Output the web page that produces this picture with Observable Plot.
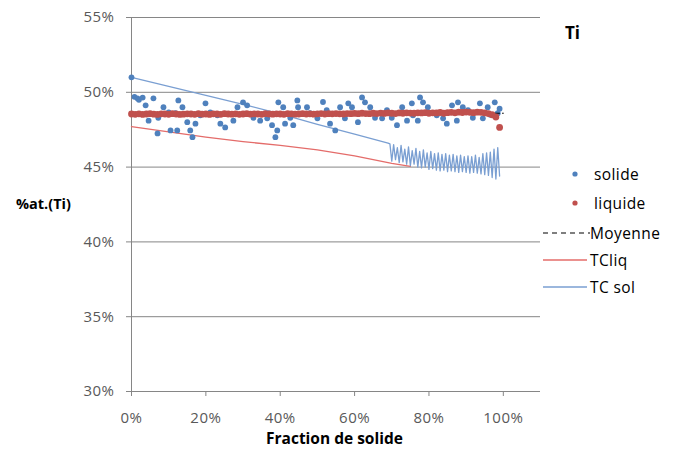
<!DOCTYPE html>
<html>
<head>
<meta charset="utf-8">
<script src="https://cdn.jsdelivr.net/npm/d3@7"></script>
<script src="https://cdn.jsdelivr.net/npm/@observablehq/plot@0.6"></script>
<style>
  body { margin: 0; background: #fff; }
  #wrap { position: relative; width: 678px; height: 455px; font-family: "Open Sans", sans-serif; }
  .lbl { position: absolute; white-space: nowrap; color: #000; }
  .leg { position: absolute; display: flex; align-items: center; font-size: 15.5px; letter-spacing: 0.4px; color: #000; white-space: nowrap; }
  svg text { letter-spacing: 0.5px; }
</style>
</head>
<body>
<div id="wrap"></div>
<script>
// ---- data (values in %) ----
const yTicks = [30, 35, 40, 45, 50, 55];
const xTicks = [0, 20, 40, 60, 80, 100];

const solideX = [0, 0.8, 1.6, 2, 3, 3.8, 4.6, 5.9, 7, 7.2, 8.6, 10, 10.5, 11.8, 12.3, 12.6, 13.7, 15, 15.8, 16.4, 17.2, 18.5, 19.9, 21.2, 23.1, 23.9,
  25.2, 27.4, 28.5, 30, 31.1, 32.8, 34.6, 36.5, 37.8, 38.7, 39.2, 39.5, 40.8, 41.3, 42.7, 43.5, 44.6, 44.8, 47.2, 48, 50, 51.5, 52.5,
  53.4, 54.8, 56.1, 57.4, 58.3, 59.3, 60.9, 62, 62.8, 64.2, 65.5, 67.4, 68.7, 70, 71.4, 72.8, 74.1, 75.4,
  75.7, 77, 77.6, 78.4, 79.7, 82.1, 83.8, 84.8, 86.2, 87.5, 87.8, 89.1, 90.5, 91.8, 93.7, 94.5, 95.8, 96.5, 97.7, 98.5, 99];
const solideY = [51.0, 49.7, 49.6, 49.5, 49.65, 49.13, 48.1, 49.6, 47.25, 48.3, 49.0, 48.66, 47.45, 48.6, 47.45, 49.46, 49.0, 48.0, 47.45, 47.0, 47.9, 48.46, 49.26, 48.66, 48.46, 47.9,
  47.65, 48.1, 49.0, 49.33, 49.13, 48.3, 48.1, 48.26, 47.8, 47.0, 47.45, 49.33, 49.0, 47.9, 48.3, 47.8, 49.46, 49.0, 49.0, 48.6, 48.26, 49.35, 48.8,
  47.9, 47.45, 49.0, 48.26, 49.26, 49.0, 48.0, 49.66, 49.33, 49.0, 48.3, 48.26, 48.8, 48.3, 47.8, 49.0, 48.1, 49.26,
  48.46, 48.1, 49.66, 49.33, 49.0, 48.46, 48.26, 47.9, 49.13, 48.1, 49.33, 49.0, 48.8, 48.3, 49.26, 48.26, 49.0, 48.5, 49.33, 48.6, 48.9];

const liquideX = [0, 1, 2, 3, 4, 5, 6, 7, 8, 9, 10, 11, 12, 13, 14, 15, 16, 17, 18, 19, 20, 21, 22, 23, 24, 25, 26, 27, 28, 29,
  30, 31, 32, 33, 34, 35, 36, 37, 38, 39, 40, 41, 42, 43, 44, 45, 46, 47, 48, 49, 50, 51, 52, 53, 54, 55, 56, 57, 58, 59,
  60, 61, 62, 63, 64, 65, 66, 67, 68, 69, 70, 71, 72, 73, 74, 75, 76, 77, 78, 79, 80, 81, 82, 83, 84, 85, 86, 87, 88, 89,
  90, 91, 92, 93, 94, 95, 96, 97, 98, 99];
const liquideY = [48.55, 48.53, 48.56, 48.52, 48.55, 48.57, 48.54, 48.52, 48.56, 48.55, 48.53, 48.57, 48.55, 48.52, 48.54, 48.56, 48.55, 48.53, 48.57, 48.54, 48.55, 48.52, 48.56, 48.55, 48.53, 48.57, 48.55, 48.54, 48.56, 48.53,
  48.55, 48.57, 48.54, 48.56, 48.55, 48.53, 48.57, 48.55, 48.54, 48.56, 48.55, 48.53, 48.57, 48.56, 48.54, 48.55, 48.57, 48.55, 48.56, 48.54, 48.56, 48.58, 48.55, 48.57, 48.56, 48.58, 48.56, 48.55, 48.58, 48.57,
  48.59, 48.57, 48.6, 48.58, 48.57, 48.6, 48.58, 48.61, 48.59, 48.62, 48.6, 48.58, 48.62, 48.6, 48.63, 48.61, 48.6, 48.63, 48.62, 48.64, 48.6, 48.63, 48.62, 48.65, 48.6, 48.64, 48.66, 48.63, 48.67, 48.65,
  48.68, 48.66, 48.64, 48.67, 48.66, 48.62, 48.58, 48.5, 48.35, 47.65];

const moyenneX = [0, 100];
const moyenneY = [48.6, 48.6];

const tcliqX = [0, 10, 20, 30, 40, 50, 60, 70, 75];
const tcliqY = [47.7, 47.35, 47.0, 46.7, 46.45, 46.15, 45.75, 45.25, 45.05];

const tcsolX = [0, 10, 20, 30, 40, 50, 60, 69,
  69.5, 70, 70.5, 71, 71.5, 72, 72.5, 73, 73.5, 74, 74.5, 75, 75.5, 76, 76.5, 77, 77.5, 78, 78.5, 79, 79.5, 80,
  80.5, 81, 81.5, 82, 82.5, 83, 83.5, 84, 84.5, 85, 85.5, 86, 86.5, 87, 87.5, 88, 88.5, 89, 89.5, 90,
  90.5, 91, 91.5, 92, 92.5, 93, 93.5, 94, 94.5, 95, 95.5, 96, 96.5, 97, 97.5, 98, 98.5, 99];
const tcsolY = [51.0, 50.4, 49.8, 49.2, 48.55, 47.85, 47.2, 46.6,
  46.55, 45.4, 46.5, 45.5, 46.3, 45.3, 46.45, 45.35, 46.2, 45.2, 46.35, 45.1, 46.1, 45.2, 46.25, 45.0, 46.05, 44.95, 46.15, 45.0, 45.95, 44.85,
  46.05, 44.9, 45.9, 44.8, 45.95, 44.75, 45.85, 44.8, 45.9, 44.7, 45.8, 44.75, 45.85, 44.7, 45.75, 44.65, 45.8, 44.7, 45.7, 44.65,
  45.75, 44.6, 45.7, 44.65, 45.8, 44.6, 45.65, 44.55, 45.9, 44.5, 45.95, 44.45, 46.0, 44.3, 46.2, 44.2, 46.3, 44.4];

const colors = { solide: "#4f81bd", liquide: "#c0504d", tcliq: "#e46c6a", tcsol: "#7a9fd2", grid: "#868686" };

// ---- tables built from the arrays ----
const solide = solideX.map((x, i) => ({x, y: solideY[i]}));
const liquide = liquideX.map((x, i) => ({x, y: liquideY[i]}));
const moyenne = moyenneX.map((x, i) => ({x, y: moyenneY[i]}));
const tcliq = tcliqX.map((x, i) => ({x, y: tcliqY[i]}));
const tcsol = tcsolX.map((x, i) => ({x, y: tcsolY[i]}));

const pct = d => d + "%";

const chart = Plot.plot({
  width: 678,
  height: 455,
  marginLeft: 131,
  marginRight: 138,
  marginTop: 17,
  marginBottom: 64,
  style: { fontFamily: "Open Sans, sans-serif", fontSize: "15px", color: "#595959", background: "transparent" },
  x: { domain: [0, 110] },
  y: { domain: [30, 55] },
  marks: [
    Plot.gridY(yTicks, { stroke: colors.grid, strokeOpacity: 1, strokeWidth: 1 }),
    Plot.ruleX([0], { stroke: colors.grid, strokeWidth: 1 }),
    Plot.axisY(yTicks, { tickSize: 5, tickPadding: 12, tickFormat: pct, stroke: colors.grid, label: null }),
    Plot.axisX(xTicks, { tickSize: 5, tickPadding: 16, tickFormat: pct, stroke: colors.grid, label: null }),
    Plot.line(tcliq, { x: "x", y: "y", stroke: colors.tcliq, strokeWidth: 1.3 }),
    Plot.line(tcsol, { x: "x", y: "y", stroke: colors.tcsol, strokeWidth: 1.3 }),
    Plot.dot(solide, { x: "x", y: "y", r: 2.9, fill: colors.solide, stroke: "none" }),
    Plot.line(moyenne, { x: "x", y: "y", stroke: "#000", strokeWidth: 1, strokeDasharray: "4,3" }),
    Plot.dot(liquide, { x: "x", y: "y", r: 3.4, fill: colors.liquide, stroke: "none" })
  ]
});

const wrap = document.getElementById("wrap");
wrap.appendChild(chart);

function addLabel(text, left, top, size, bold) {
  const d = document.createElement("div");
  d.className = "lbl";
  d.textContent = text;
  d.style.left = left + "px";
  d.style.top = top + "px";
  d.style.fontSize = size + "px";
  d.style.fontWeight = bold ? "bold" : "normal";
  wrap.appendChild(d);
}
addLabel("Ti", 565, 21, 17, true);
addLabel("%at.(Ti)", 16, 194, 14.5, true);
addLabel("Fraction de solide", 266, 427, 15.5, true);

// legend
const legendItems = [
  { label: "solide", kind: "dot", color: colors.solide },
  { label: "liquide", kind: "dot", color: colors.liquide },
  { label: "Moyenne", kind: "dash", color: "#000" },
  { label: "TCliq", kind: "line", color: colors.tcliq },
  { label: "TC sol", kind: "line", color: colors.tcsol }
];
const legTops = [163, 192, 222, 249, 276];
legendItems.forEach((it, i) => {
  const row = document.createElement("div");
  row.className = "leg";
  row.style.left = "542px";
  row.style.top = legTops[i] + "px";
  const ns = "http://www.w3.org/2000/svg";
  const svg = document.createElementNS(ns, "svg");
  svg.setAttribute("width", 48);
  svg.setAttribute("height", 20);
  if (it.kind === "dot") {
    const c = document.createElementNS(ns, "circle");
    c.setAttribute("cx", 33); c.setAttribute("cy", 10); c.setAttribute("r", 2.6);
    c.setAttribute("fill", it.color);
    svg.appendChild(c);
  } else {
    const l = document.createElementNS(ns, "line");
    l.setAttribute("x1", 1); l.setAttribute("x2", it.kind === "dash" ? 48 : 45);
    l.setAttribute("y1", 10); l.setAttribute("y2", 10);
    l.setAttribute("stroke", it.color);
    l.setAttribute("stroke-width", it.kind === "dash" ? 1.2 : 1.5);
    if (it.kind === "dash") l.setAttribute("stroke-dasharray", "5,4");
    svg.appendChild(l);
  }
  row.appendChild(svg);
  const t = document.createElement("span");
  t.textContent = it.label;
  t.style.marginLeft = it.kind === "dot" ? "4px" : "0px";
  row.appendChild(t);
  wrap.appendChild(row);
});
</script>
</body>
</html>
